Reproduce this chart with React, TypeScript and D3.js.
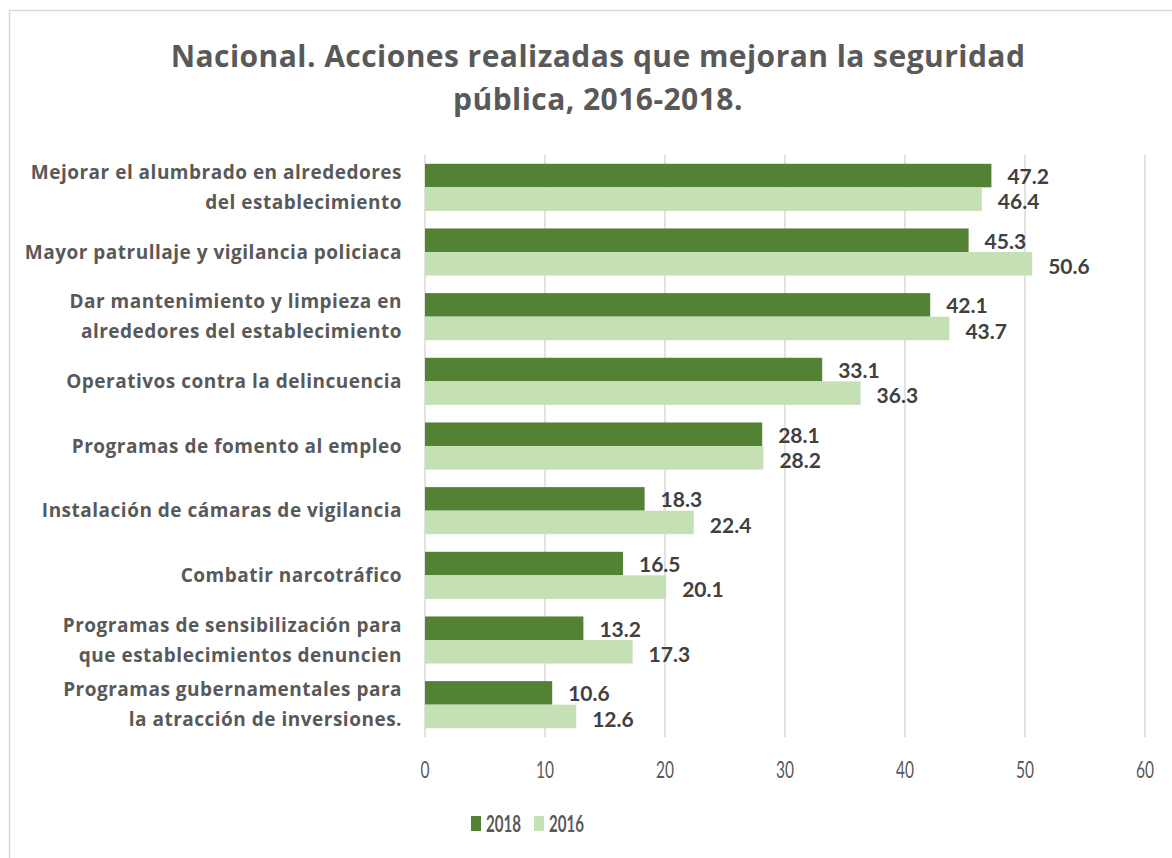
import React from 'react'
import * as d3 from 'd3'

const categories = [
  ['Mejorar el alumbrado en alrededores', 'del establecimiento'],
  ['Mayor patrullaje y vigilancia policiaca'],
  ['Dar mantenimiento y limpieza en', 'alrededores del establecimiento'],
  ['Operativos contra la delincuencia'],
  ['Programas de fomento al empleo'],
  ['Instalación de cámaras de vigilancia'],
  ['Combatir narcotráfico'],
  ['Programas de sensibilización para', 'que establecimientos denuncien'],
  ['Programas gubernamentales para', 'la atracción de inversiones.'],
]
const values2018 = [47.2, 45.3, 42.1, 33.1, 28.1, 18.3, 16.5, 13.2, 10.6]
const values2016 = [46.4, 50.6, 43.7, 36.3, 28.2, 22.4, 20.1, 17.3, 12.6]
const xTicks = [0, 10, 20, 30, 40, 50, 60]
const seriesNames = ['2018', '2016']
const colors = ['#548235', '#c5e0b4']

const W = 1172
const H = 858
const WIDE = '"Open Sans", Lato, sans-serif'
const NARROW = 'Lato, "Open Sans", sans-serif'

export default function App() {
  const left = 425
  const right = 1145
  const top = 155
  const bottom = 737

  const x = d3.scaleLinear().domain([0, 60]).range([left, right])
  const y = d3.scaleBand<number>()
    .domain(d3.range(categories.length))
    .range([top, bottom])
    .paddingInner(0.272)
    .paddingOuter(0.136)
  const sub = d3.scaleBand<number>().domain([0, 1]).range([0, y.bandwidth()])

  const rows = categories.map((c, i) => ({ label: c, vals: [values2018[i], values2016[i]] }))

  return (
    <svg width={W} height={H} style={{ position: 'absolute', left: 0, top: 0, background: '#fff' }}>
      <rect x={9.5} y={10.5} width={1300} height={1000} fill="#fff" stroke="#d9d9d9" strokeWidth={1.5} />

      <g fontFamily={WIDE} fontSize={30} fontWeight={700} fill="#595959" textAnchor="middle"
        letterSpacing={0.45}>
        <text x={598} y={67}>Nacional. Acciones realizadas que mejoran la seguridad</text>
        <text x={598} y={110}>pública, 2016-2018.</text>
      </g>

      {xTicks.map(t => (
        <g key={t}>
          <line x1={x(t)} x2={x(t)} y1={top} y2={bottom} stroke="#d9d9d9" strokeWidth={1.5} />
          <text x={x(t)} y={778} textAnchor="middle" fontFamily={NARROW} fontSize={24} fill="#595959"
            textLength={String(t).length * 9} lengthAdjust="spacingAndGlyphs">{t}</text>
        </g>
      ))}

      {rows.map((r, i) => {
        const y0 = y(i) as number
        const cy = y0 + y.bandwidth() / 2
        return (
          <g key={i}>
            {r.vals.map((v, j) => {
              const by = y0 + (sub(j) as number)
              return (
                <g key={j}>
                  <rect x={x(0)} y={by} width={x(v) - x(0)} height={sub.bandwidth()} fill={colors[j]} />
                  <text x={x(v) + 16} y={by + sub.bandwidth() / 2 + (j === 1 ? 3 : 1)} dy="0.35em"
                    fontFamily={NARROW} fontSize={21} fontWeight={700} fill="#404040">{v.toFixed(1)}</text>
                </g>
              )
            })}
            {r.label.map((line, k) => (
              <text key={k} x={402} y={cy + (k - (r.label.length - 1) / 2) * 30} dy="0.35em"
                textAnchor="end" fontFamily={WIDE} fontSize={19} letterSpacing={0.5} fontWeight={700}
                fill="#595959">{line}</text>
            ))}
          </g>
        )
      })}

      {seriesNames.map((s, i) => (
        <g key={s} transform={`translate(${471 + i * 63},816)`}>
          <rect x={0} y={0} width={10} height={15} fill={colors[i]} />
          <text x={15} y={8} dy="0.36em" fontFamily={NARROW} fontSize={23} fontWeight={700} fill="#595959"
            textLength={35} lengthAdjust="spacingAndGlyphs">{s}</text>
        </g>
      ))}
    </svg>
  )
}
